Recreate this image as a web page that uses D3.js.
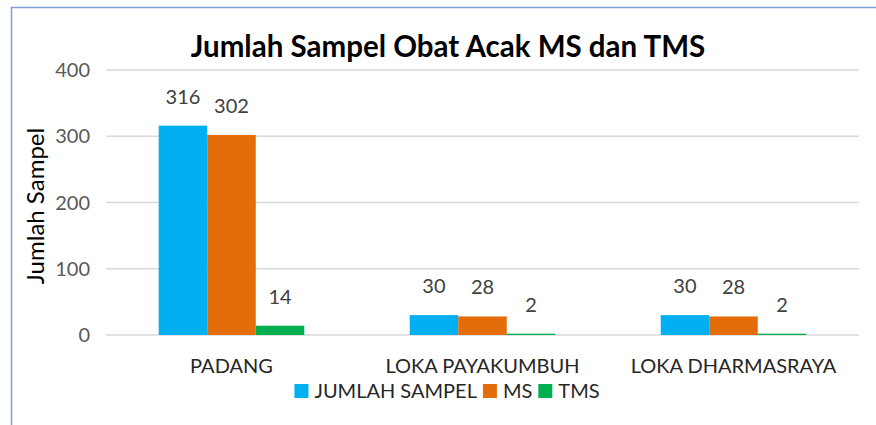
<!DOCTYPE html>
<html lang="en">
<head>
<meta charset="UTF-8">
<script src="https://d3js.org/d3.v7.min.js"></script>
<title>Jumlah Sampel Obat Acak MS dan TMS</title>
<style>
  body { margin: 0; background: #fff; }
</style>
</head>
<body>
<div id="container"></div>
<script>
const categories = ['PADANG', 'LOKA PAYAKUMBUH', 'LOKA DHARMASRAYA'];
const seriesNames = ['JUMLAH SAMPEL', 'MS', 'TMS'];
const jumlahSampel = [316, 30, 30];
const ms = [302, 28, 28];
const tms = [14, 2, 2];
const yTicks = [0, 100, 200, 300, 400];

const colors = ['#00B0F0', '#E46C0A', '#00B050'];
const font = 'Lato, "Open Sans", sans-serif';

const width = 876, height = 425;
const margin = {top: 70, right: 17, bottom: 90, left: 106};

const svg = d3.select('#container').append('svg')
  .attr('width', width).attr('height', height);

// outer frame
svg.append('rect')
  .attr('x', 11.5).attr('y', 7.5)
  .attr('width', width + 10).attr('height', height + 10)
  .attr('fill', 'none').attr('stroke', '#7FA0CB').attr('stroke-width', 1.5);

const x0 = d3.scaleBand().domain(categories)
  .range([margin.left, width - margin.right]).paddingInner(0.42).paddingOuter(0.21);
const x1 = d3.scaleBand().domain(seriesNames).range([0, x0.bandwidth()]);
const y = d3.scaleLinear().domain([0, 400]).range([height - margin.bottom, margin.top]);

// gridlines
svg.append('g').selectAll('line').data(yTicks).join('line')
  .attr('x1', margin.left).attr('x2', width - margin.right)
  .attr('y1', d => y(d)).attr('y2', d => y(d))
  .attr('stroke', '#D9D9D9').attr('stroke-width', 1.5);

// y tick labels
svg.append('g').selectAll('text').data(yTicks).join('text')
  .attr('x', 90).attr('y', d => y(d)).attr('dy', '0.35em')
  .attr('text-anchor', 'end')
  .style('font-family', font).style('font-size', '20px').style('fill', '#595959')
  .text(d => d);

const values = [jumlahSampel, ms, tms];
const rows = [];
categories.forEach((c, i) => {
  seriesNames.forEach((s, j) => rows.push({cat: c, series: s, value: values[j][i], color: colors[j]}));
});

svg.append('g').selectAll('rect').data(rows).join('rect')
  .attr('x', d => x0(d.cat) + x1(d.series))
  .attr('width', x1.bandwidth())
  .attr('y', d => y(d.value))
  .attr('height', d => y(0) - y(d.value))
  .attr('fill', d => d.color);

svg.append('g').selectAll('text').data(rows).join('text')
  .attr('x', d => x0(d.cat) + x1(d.series) + x1.bandwidth() / 2)
  .attr('y', d => y(d.value) - 22)
  .attr('text-anchor', 'middle')
  .style('font-family', font).style('font-size', '20px').style('fill', '#404040')
  .text(d => d.value);

// category labels
svg.append('g').selectAll('text').data(categories).join('text')
  .attr('x', d => x0(d) + x0.bandwidth() / 2)
  .attr('y', 373)
  .attr('text-anchor', 'middle')
  .style('font-family', font).style('font-size', '20px').style('fill', '#262626')
  .text(d => d);

// title
svg.append('text')
  .attr('x', 448).attr('y', 57)
  .attr('text-anchor', 'middle')
  .style('font-family', font).style('font-size', '29.5px').style('font-weight', 'bold').style('fill', '#000')
  .text('Jumlah Sampel Obat Acak MS dan TMS');

// y axis title
svg.append('text')
  .attr('transform', 'translate(44,206) rotate(-90)')
  .attr('text-anchor', 'middle')
  .style('font-family', font).style('font-size', '24px').style('fill', '#000')
  .text('Jumlah Sampel');

// legend, laid out from measured text widths and centred
const legend = svg.append('g');
const items = legend.selectAll('g').data(seriesNames).join('g');
items.append('rect').attr('width', 14).attr('height', 14).attr('fill', (d, i) => colors[i]);
items.append('text').attr('x', 20).attr('y', 7).attr('dy', '0.36em')
  .style('font-family', font).style('font-size', '20px').style('fill', '#262626')
  .text(d => d);
let cursor = 0;
items.each(function() {
  d3.select(this).attr('transform', `translate(${cursor},0)`);
  cursor += 20 + d3.select(this).select('text').node().getComputedTextLength() + 6;
});
legend.attr('transform', `translate(${447 - (cursor - 6) / 2},384)`);
</script>
</body>
</html>
